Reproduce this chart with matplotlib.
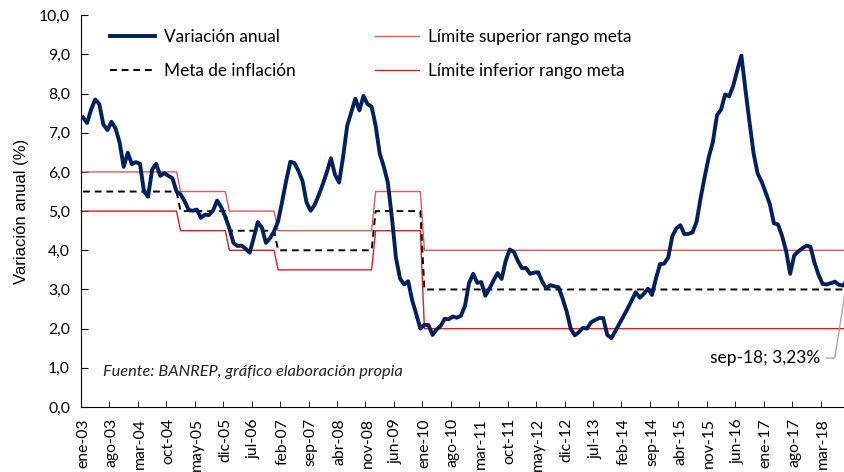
import matplotlib.pyplot as plt
import matplotlib.ticker as mticker

plt.rcParams['font.family'] = ['Lato', 'DejaVu Sans']

# meses en espanol para las etiquetas del eje x
meses = ['ene', 'feb', 'mar', 'abr', 'may', 'jun',
         'jul', 'ago', 'sep', 'oct', 'nov', 'dic']
anios = list(range(2003, 2019))

# inflacion anual mensual (%), ene-03 a sep-18
inflacion = [
    7.39, 7.25, 7.60, 7.85, 7.73, 7.21, 7.07, 7.28, 7.11, 6.75, 6.13, 6.49,  # 2003
    6.20, 6.25, 6.21, 5.50, 5.37, 6.06, 6.21, 5.90, 5.97, 5.90, 5.84, 5.50,  # 2004
    5.43, 5.25, 5.03, 5.01, 5.04, 4.83, 4.91, 4.90, 5.02, 5.27, 5.10, 4.85,  # 2005
    4.56, 4.19, 4.11, 4.12, 4.04, 3.94, 4.32, 4.72, 4.58, 4.19, 4.31, 4.48,  # 2006
    4.74, 5.25, 5.78, 6.26, 6.23, 6.03, 5.77, 5.22, 5.01, 5.16, 5.41, 5.69,  # 2007
    6.00, 6.35, 5.93, 5.73, 6.39, 7.18, 7.52, 7.87, 7.57, 7.94, 7.73, 7.67,  # 2008
    7.18, 6.47, 6.14, 5.73, 4.84, 3.81, 3.28, 3.13, 3.21, 2.72, 2.37, 2.00,  # 2009
    2.10, 2.09, 1.84, 1.98, 2.07, 2.25, 2.24, 2.31, 2.28, 2.33, 2.59, 3.17,  # 2010
    3.40, 3.17, 3.19, 2.84, 3.02, 3.23, 3.42, 3.27, 3.73, 4.02, 3.96, 3.73,  # 2011
    3.54, 3.55, 3.40, 3.43, 3.44, 3.20, 3.03, 3.11, 3.08, 3.06, 2.77, 2.44,  # 2012
    2.00, 1.83, 1.91, 2.02, 2.00, 2.16, 2.22, 2.27, 2.27, 1.84, 1.76, 1.94,  # 2013
    2.13, 2.32, 2.51, 2.72, 2.93, 2.79, 2.89, 3.02, 2.86, 3.29, 3.65, 3.66,  # 2014
    3.82, 4.36, 4.56, 4.64, 4.41, 4.42, 4.46, 4.74, 5.35, 5.89, 6.39, 6.77,  # 2015
    7.45, 7.59, 7.98, 7.93, 8.20, 8.60, 8.97, 8.10, 7.27, 6.48, 5.96, 5.75,  # 2016
    5.47, 5.18, 4.69, 4.66, 4.37, 3.99, 3.40, 3.87, 3.97, 4.05, 4.12, 4.09,  # 2017
    3.68, 3.37, 3.14, 3.13, 3.16, 3.20, 3.12, 3.10, 3.23,                    # 2018
]

# meta de inflacion y rango por anio
meta = [5.5, 5.5, 5.0, 4.5, 4.0, 4.0, 5.0, 3.0, 3.0, 3.0, 3.0, 3.0, 3.0, 3.0, 3.0, 3.0]
lim_sup = [6.0, 6.0, 5.5, 5.0, 4.5, 4.5, 5.5, 4.0, 4.0, 4.0, 4.0, 4.0, 4.0, 4.0, 4.0, 4.0]
lim_inf = [5.0, 5.0, 4.5, 4.0, 3.5, 3.5, 4.5, 2.0, 2.0, 2.0, 2.0, 2.0, 2.0, 2.0, 2.0, 2.0]

n = len(inflacion)
x = list(range(n))
etiquetas = [meses[i % 12] + '-' + str(anios[i // 12])[2:] for i in x]

# expandir las metas anuales a meses
meta_m = [meta[i // 12] for i in x]
sup_m = [lim_sup[i // 12] for i in x]
inf_m = [lim_inf[i // 12] for i in x]

fig = plt.figure(figsize=(8.44, 4.72), dpi=100)
# el grafico original queda recortado un poco a la derecha
ax = fig.add_axes([0.096, 0.1377, 0.910, 0.830])

l_inf, = ax.plot(x, inf_m, color='#E41A1C', lw=1.0, label='Límite inferior rango meta')
l_sup, = ax.plot(x, sup_m, color='#E8585A', lw=1.0, label='Límite superior rango meta')
l_meta, = ax.plot(x, meta_m, color='black', lw=1.4, ls=(0, (3.5, 2.5)), label='Meta de inflación')
l_var, = ax.plot(x, inflacion, color='#002060', lw=2.8, solid_joinstyle='round',
                 label='Variación anual')

ax.set_xlim(-0.5, n - 0.5)
ax.set_ylim(0, 10)
ax.yaxis.set_major_locator(mticker.MultipleLocator(1))
ax.yaxis.set_major_formatter(mticker.FuncFormatter(lambda v, p: f'{v:.1f}'.replace('.', ',')))

# etiquetas cada 7 meses, marcas entre categorias
ax.set_xticks(x[::7])
ax.set_xticklabels(etiquetas[::7], rotation=90, fontsize=11.3)
ax.set_xticks([i + 6.5 for i in x[::7]], minor=True)
ax.tick_params(axis='x', which='major', length=0, pad=8)
ax.tick_params(axis='x', which='minor', direction='in', length=4)
ax.tick_params(axis='y', direction='in', length=5, labelsize=11.3, pad=8)

for s in ['top', 'right']:
    ax.spines[s].set_visible(False)

ax.set_ylabel('Variación anual (%)', fontsize=12, labelpad=7, family=['Liberation Sans', 'DejaVu Sans'])

leg1 = ax.legend(handles=[l_var, l_meta], loc='upper left', bbox_to_anchor=(0.018, 1.005),
                 frameon=False, fontsize=12.4, handlelength=2.6, handletextpad=0.5,
                 labelspacing=1.05)
ax.add_artist(leg1)
ax.legend(handles=[l_sup, l_inf], loc='upper left', bbox_to_anchor=(0.362, 1.005),
          frameon=False, fontsize=12.4, handlelength=2.6, handletextpad=0.5,
          labelspacing=1.05)

ax.text(0.028, 0.08, 'Fuente: BANREP, gráfico elaboración propia', transform=ax.transAxes,
        fontsize=11.8, style='italic', color='#222222')

ax.annotate('sep-18; 3,23%', xy=(n - 1, inflacion[-1]), xytext=(181.5, 1.25),
            ha='right', va='center', fontsize=12.5,
            arrowprops=dict(arrowstyle='-', color='#A6A6A6', lw=1.0, shrinkA=2, shrinkB=0,
                            relpos=(1, 0.5), connectionstyle='angle,angleA=0,angleB=81,rad=0'))

fig.savefig('out.png', dpi=100)
